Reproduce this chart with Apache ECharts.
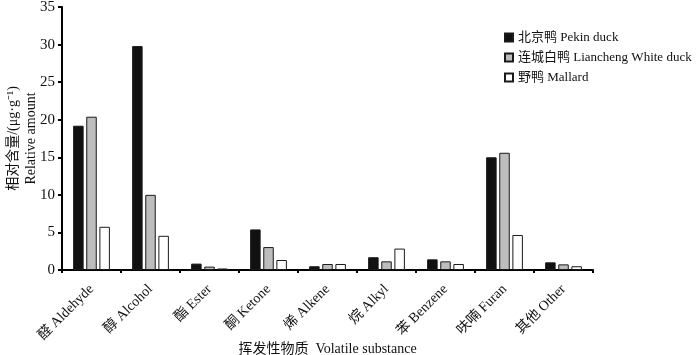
<!DOCTYPE html>
<html><head><meta charset="utf-8">
<script src="https://cdn.jsdelivr.net/npm/echarts@6/dist/echarts.min.js"></script>
<style>html,body{margin:0;padding:0;background:#fff}#c{width:700px;height:355px}</style>
</head><body><div id="c"></div>
<script>
const categories = ['醛 Aldehyde','醇 Alcohol','酯 Ester','酮 Ketone','烯 Alkene','烷 Alkyl','苯 Benzene','呋喃 Furan','其他 Other'];
const pekin = [19.2, 29.8, 0.85, 5.4, 0.5, 1.7, 1.42, 15.0, 1.02];
const liancheng = [20.4, 10.0, 0.45, 3.05, 0.8, 1.15, 1.15, 15.6, 0.75];
const mallard = [5.75, 4.55, 0.2, 1.33, 0.8, 2.85, 0.8, 4.66, 0.5];
const seriesNames = ['北京鸭 Pekin duck','连城白鸭 Liancheng White duck','野鸭 Mallard'];
const yTicks = {min: 0, max: 35, interval: 5};

const FONT = "'Liberation Serif', 'Noto Sans CJK SC', serif";
const chart = echarts.init(document.getElementById('c'), null, {renderer: 'canvas'});
const mk = (name, data, color) => ({
  name, type: 'bar', data, barWidth: 10.5, barGap: '25%',
  itemStyle: {color, borderColor: '#1a1a1a', borderWidth: 1}
});
chart.setOption({
  animation: false,
  textStyle: {fontFamily: FONT},
  grid: {left: 62, right: 107, top: 7, bottom: 85, containLabel: false, outerBoundsMode: 'none'},
  legend: {
    orient: 'vertical', left: 499, top: 26, itemWidth: 8, itemHeight: 8, itemGap: 7,
    icon: 'rect',
    textStyle: {fontFamily: FONT, fontSize: 13, color: '#111'},
    data: seriesNames
  },
  xAxis: {
    type: 'category', data: categories,
    axisLine: {lineStyle: {color: '#000', width: 2}},
    axisTick: {show: true, length: 3, lineStyle: {color: '#000', width: 2}},
    axisLabel: {rotate: 45, fontFamily: FONT, fontSize: 14, color: '#111', margin: 17, interval: 0},
    name: '挥发性物质  Volatile substance', nameLocation: 'middle', nameGap: 72,
    nameMoveOverlap: false,
    nameTextStyle: {fontFamily: FONT, fontSize: 14, color: '#111'}
  },
  yAxis: {
    type: 'value', min: yTicks.min, max: yTicks.max, interval: yTicks.interval,
    splitLine: {show: false},
    axisLine: {show: true, lineStyle: {color: '#000', width: 2}},
    axisTick: {show: true, length: 4, lineStyle: {color: '#000', width: 2}},
    axisLabel: {fontFamily: FONT, fontSize: 15, color: '#111', margin: 7},
    name: '相对含量/(μg·g⁻¹)\nRelative amount', nameLocation: 'middle', nameGap: 22,
    nameRotate: 90, nameMoveOverlap: false,
    nameTextStyle: {fontFamily: FONT, fontSize: 14, color: '#111', lineHeight: 18}
  },
  series: [
    mk(seriesNames[0], pekin, '#111111'),
    mk(seriesNames[1], liancheng, '#bdbdbd'),
    mk(seriesNames[2], mallard, '#ffffff')
  ]
});
</script></body></html>
